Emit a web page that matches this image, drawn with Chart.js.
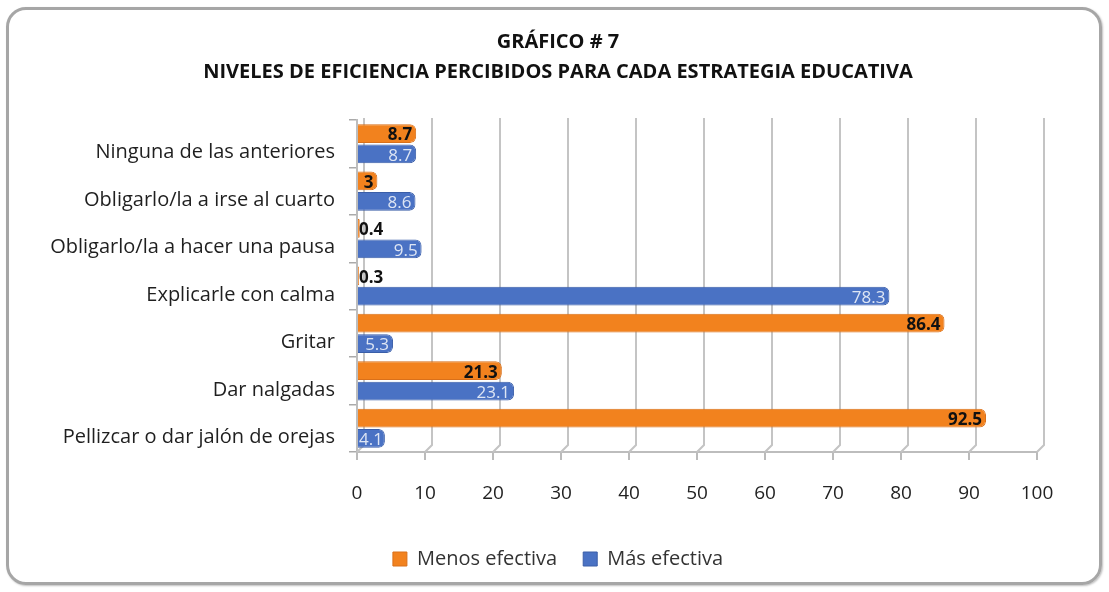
<!DOCTYPE html>
<html><head><meta charset="utf-8">
<script src="https://cdn.jsdelivr.net/npm/chart.js@4/dist/chart.umd.min.js"></script>
<style>
html,body{margin:0;padding:0;background:#fff;}
#wrap{position:relative;width:1109px;height:592px;}
#frame{position:absolute;left:6px;top:7px;width:1090px;height:572px;border:3px solid #a6a6a6;border-radius:20px;pointer-events:none;box-shadow:1px 1px 2px rgba(0,0,0,0.25);}
canvas{position:absolute;left:0;top:0;}
</style></head>
<body>
<div id="wrap"><canvas id="c" width="1109" height="592"></canvas><div id="frame"></div></div>
<script>
const categories = ["Ninguna de las anteriores","Obligarlo/la a irse al cuarto","Obligarlo/la a hacer una pausa","Explicarle con calma","Gritar","Dar nalgadas","Pellizcar o dar jalón de orejas"];
const menosEfectiva = [8.7, 3, 0.4, 0.3, 86.4, 21.3, 92.5];
const masEfectiva = [8.7, 8.6, 9.5, 78.3, 5.3, 23.1, 4.1];
const seriesNames = ["Menos efectiva","Más efectiva"];
const titleLines = ["GRÁFICO # 7","NIVELES DE EFICIENCIA PERCIBIDOS PARA CADA ESTRATEGIA EDUCATIVA"];

const FONT = "'Open Sans', sans-serif";
const DEPTH = 7;

const wallGrid = {
  id: 'wallGrid',
  beforeDatasetsDraw(chart) {
    const ctx = chart.ctx, xs = chart.scales.x, a = chart.chartArea;
    ctx.save();
    ctx.strokeStyle = '#c4c4c4';
    ctx.lineWidth = 2;
    xs.ticks.forEach(t => {
      const px = xs.getPixelForValue(t.value);
      ctx.beginPath();
      ctx.moveTo(px + DEPTH, a.top - 2);
      ctx.lineTo(px + DEPTH, a.bottom - DEPTH);
      ctx.lineTo(px, a.bottom);
      ctx.stroke();
    });
    ctx.restore();
  }
};

const labelPlugin = {
  id: 'barLabels',
  afterDatasetsDraw(chart) {
    const ctx = chart.ctx;
    chart.data.datasets.forEach((ds, di) => {
      const meta = chart.getDatasetMeta(di);
      meta.data.forEach((bar, i) => {
        const v = ds.data[i];
        const txt = String(v);
        ctx.save();
        if (di === 0) { ctx.font = "bold 17px " + FONT; ctx.fillStyle = "#111"; }
        else { ctx.font = "17px " + FONT; ctx.fillStyle = "#dde5f4"; }
        const w = ctx.measureText(txt).width;
        let x = Math.max(bar.x - 4, bar.base + w + 1);
        ctx.textAlign = 'right';
        ctx.textBaseline = 'middle';
        ctx.fillText(txt, x, bar.y + 2);
        ctx.restore();
      });
    });
  }
};

new Chart(document.getElementById('c'), {
  type: 'bar',
  data: {
    labels: categories,
    datasets: [
      { label: seriesNames[0], data: menosEfectiva, backgroundColor: '#F2821E', borderColor: '#d9701a', borderWidth: 1, borderRadius: 6, borderSkipped: 'start' },
      { label: seriesNames[1], data: masEfectiva, backgroundColor: '#4A72C4', borderColor: '#3a5ea8', borderWidth: 1, borderRadius: 6, borderSkipped: 'start' }
    ]
  },
  options: {
    indexAxis: 'y',
    responsive: false,
    animation: false,
    categoryPercentage: 0.86,
    barPercentage: 0.92,
    layout: { padding: { left: 50, right: 43, top: 0, bottom: 13 } },
    scales: {
      x: {
        min: 0, max: 100,
        ticks: { stepSize: 10, font: { family: FONT, size: 19 }, color: '#222', padding: 22 },
        grid: { drawOnChartArea: false, color: '#bbb', lineWidth: 2, tickLength: 8, tickColor: '#bbb' },
        border: { color: '#bdbdbd', width: 2 },
        afterFit(scale) { scale.height = 71; }
      },
      y: {
        ticks: { font: { family: FONT, size: 20 }, color: '#1f1f1f', padding: 14, labelOffset: 9 },
        grid: { drawOnChartArea: false, tickLength: 8, color: '#aaa', lineWidth: 1.5 },
        border: { color: '#bdbdbd', width: 2 },
        afterFit(scale) { scale.width = 307; }
      },
      yR: {
        type: 'linear', position: 'right', min: 0, max: 1,
        ticks: { display: false }, grid: { display: false }, border: { display: false },
        afterFit(scale) { scale.width = 29; }
      }
    },
    plugins: {
      title: {
        display: true, text: titleLines,
        font: { family: FONT, size: 20, weight: 'bold', lineHeight: 1.5 },
        color: '#111',
        padding: { top: 27, bottom: 33 }
      },
      legend: {
        position: 'bottom',
        labels: { font: { family: FONT, size: 20 }, color: '#333', boxWidth: 14, boxHeight: 14, padding: 26 }
      },
      tooltip: { enabled: false }
    }
  },
  plugins: [wallGrid, labelPlugin]
});
</script>
</body></html>
